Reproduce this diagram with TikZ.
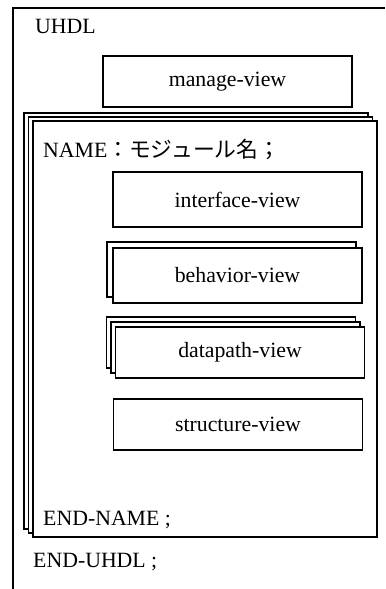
\documentclass[tikz,border=0pt]{standalone}
\usepackage{fontspec}
\setmainfont{Liberation Serif}
\newfontfamily\cjk{Noto Sans CJK JP}[Scale=1.0]
\usetikzlibrary{positioning,shadows}

\begin{document}
\begin{tikzpicture}[x=0.03cm,y=-0.03cm,
  font=\fontsize{18.6}{22}\selectfont,
  viewbox/.style={draw, fill=white, line width=1.1pt, minimum width=7.47cm, minimum height=1.53cm, inner sep=0pt},
  keyword/.style={anchor=base west, inner sep=0pt}]
\useasboundingbox (0,0) rectangle (385,589);
% UHDL frame, cut off at right and bottom
\draw[line width=1pt] (13,589) -- (13,8) -- (385,8);
\node[keyword] (uhdl) at (35,33) {UHDL};
\node[viewbox] (manage) at (227.5,81.5) {manage-view};
% module block, two pages behind it
\node[draw, fill=white, line width=1.5pt, minimum width=10.32cm, minimum height=12.48cm,
  copy shadow={shadow xshift=-0.27cm, shadow yshift=0.24cm},
  copy shadow={shadow xshift=-0.135cm, shadow yshift=0.12cm}] (module) at (205,329) {};
\node[keyword] (namehead) at (43,157) {NAME{\cjk ：モジュール名；}};
\node[viewbox, minimum height=1.65cm] (interface) at (237.5,199.5) {interface-view};
\node[viewbox, minimum height=1.65cm,
  copy shadow={shadow xshift=-0.18cm, shadow yshift=0.18cm}] (behavior) at (237.5,275.5) {behavior-view};
\node[viewbox,
  copy shadow={shadow xshift=-0.27cm, shadow yshift=0.3cm},
  copy shadow={shadow xshift=-0.135cm, shadow yshift=0.15cm}] (datapath) at (240,352.5) {datapath-view};
\node[viewbox] (structure) at (238,424.5) {structure-view};
\node[keyword] (endname) at (43,525) {END-NAME ;};
\node[keyword] (enduhdl) at (33,567) {END-UHDL ;};
\end{tikzpicture}
\end{document}
